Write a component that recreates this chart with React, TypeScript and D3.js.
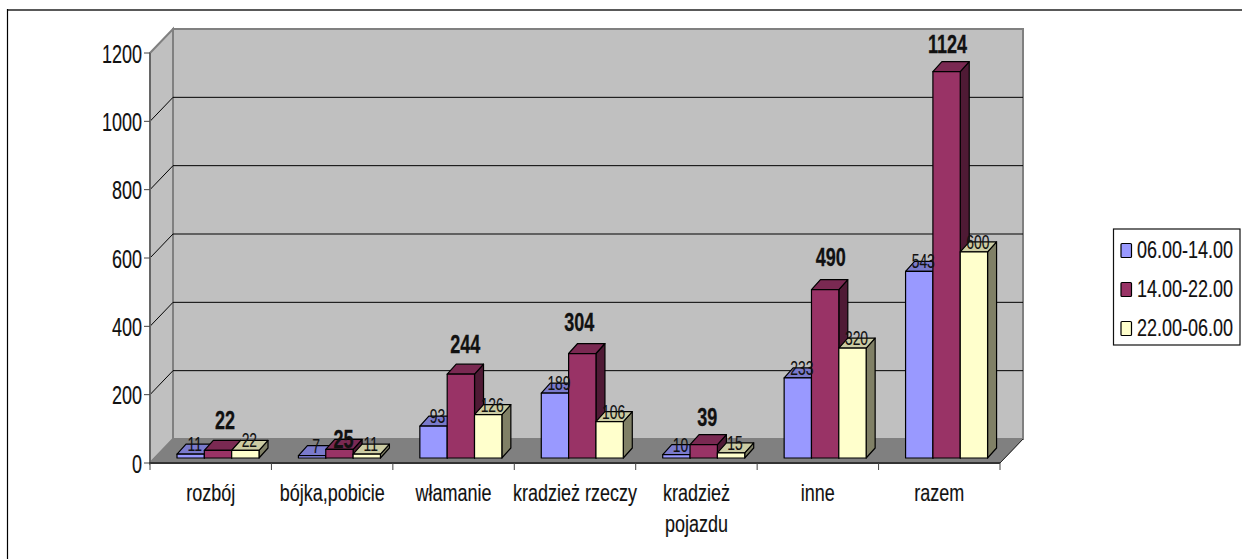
import React from "react";
import * as d3 from "d3";

const categories = ["rozbój", "bójka,pobicie", "włamanie", "kradzież rzeczy", "kradzież|pojazdu", "inne", "razem"];
const seriesNames = ["06.00-14.00", "14.00-22.00", "22.00-06.00"];
const morning = [11, 7, 93, 189, 10, 233, 543];
const afternoon = [22, 25, 244, 304, 39, 490, 1124];
const night = [22, 11, 126, 106, 15, 320, 600];
const yTicks = [0, 200, 400, 600, 800, 1000, 1200];

const series = [morning, afternoon, night];
const face = ["#9999FF", "#993366", "#FFFFCC"];
const top = ["#7A7ACC", "#7A2952", "#CCCCA3"];
const side = ["#3F3F69", "#4F1A35", "#808066"];
const FONT = "'Liberation Sans', sans-serif";

// manual label placement for the middle series, as in the source chart
const boldShiftX = [7, 4, 4.5, -3, 3.5, 5.5, 1];
const boldLift = [21, 1, 21, 23, 19, 24, 19];

function T({ x, y, anchor = "start", size, sx = 0.75, bold = false, children }: any) {
  return (
    <text transform={`translate(${x},${y}) scale(${sx},1)`} textAnchor={anchor} fontSize={size}
      fontWeight={bold ? 700 : 400} fill="#111" stroke="#111" strokeWidth={bold ? 0.3 : 0.15}>{children}</text>
  );
}

export default function App() {
  const x0 = 150, x1 = 1000, yZero = 463, yMax = 53, dx = 23, dy = 24;
  const y = d3.scaleLinear().domain([0, 1200]).range([yZero, yMax]);
  const barY = d3.scaleLinear().domain([0, 1200]).range([458, 45.6]);
  const cat = d3.scaleBand<number>().domain(d3.range(categories.length)).range([x0, x1]);
  const tickXs = d3.range(categories.length + 1).map((i) => x0 + i * cat.step());
  const inner = d3.scaleBand<number>().domain([0, 1, 2]).range([27, 109]);
  const bdx = 9, bdy = 10;
  const poly = (p: number[][]) => p.map((q) => q.join(",")).join(" ");

  return (
    <svg width={1242} height={559} style={{ position: "absolute", left: 0, top: 0, fontFamily: FONT }}>
      <rect x={0} y={0} width={1242} height={559} fill="#fff" />
      <line x1={7} x2={1242} y1={10} y2={10} stroke="#222" strokeWidth={1.6} />
      <line x1={7.5} x2={7.5} y1={9} y2={559} stroke="#000" strokeWidth={1.2} />
      {/* walls */}
      <polygon points={poly([[x0, yZero], [x0 + dx, yZero - dy], [x0 + dx, yMax - dy], [x0, yMax]])} fill="#C0C0C0" stroke="#808080" strokeWidth={2} />
      <polygon points={poly([[x0 + dx, yZero - dy], [x1 + dx, yZero - dy], [x1 + dx, yMax - dy], [x0 + dx, yMax - dy]])} fill="#C0C0C0" stroke="#808080" strokeWidth={2} />
      <polygon points={poly([[x0, yZero], [x0 + dx, yZero - dy], [x1 + dx, yZero - dy], [x1, yZero]])} fill="#808080" stroke="#808080" />
      {/* gridlines */}
      {yTicks.slice(1, -1).map((t) => (
        <polyline key={t} fill="none" stroke="#000" strokeWidth={1}
          points={poly([[x0, y(t)], [x0 + dx, y(t) - dy], [x1 + dx, y(t) - dy]])} />
      ))}
      <line x1={x0} x2={x0} y1={yMax} y2={yZero} stroke="#666" strokeWidth={2} />
      <polyline fill="none" stroke="#222" strokeWidth={1} points={poly([[x1, yZero], [x1 + dx, yZero - dy]])} />
      <line x1={x0 - 1} x2={x1} y1={yZero} y2={yZero} stroke="#333" strokeWidth={2} />
      {/* axis ticks */}
      {yTicks.map((t) => (
        <g key={t}>
          <line x1={x0 - 6} x2={x0} y1={y(t)} y2={y(t)} stroke="#444" />
          <T x={x0 - 8} y={y(t) + 9.5} anchor="end" size={25} sx={0.72}>{t}</T>
        </g>
      ))}
      {tickXs.map((tx, i) => <line key={i} x1={tx} x2={tx} y1={yZero} y2={yZero + 7} stroke="#444" />)}
      {/* bars */}
      {categories.map((_, c) => (
        <g key={c}>
          {series.map((vals, s) => {
            const l = (cat(c) as number) + (inner(s) as number);
            const w = inner.bandwidth();
            const t = barY(vals[c]);
            const b = barY(0);
            return (
              <g key={s} stroke="#000" strokeWidth={1.2} strokeLinejoin="round">
                <polygon points={poly([[l + w, t], [l + w + bdx, t - bdy], [l + w + bdx, b - bdy], [l + w, b]])} fill={side[s]} />
                <polygon points={poly([[l, t], [l + bdx, t - bdy], [l + w + bdx, t - bdy], [l + w, t]])} fill={top[s]} />
                <rect x={l} y={t} width={w} height={b - t} fill={face[s]} />
              </g>
            );
          })}
        </g>
      ))}
      {/* value labels */}
      {categories.map((_, c) => series.map((vals, s) => {
        const l = (cat(c) as number) + (inner(s) as number);
        const w = inner.bandwidth();
        const bold = s === 1;
        const lift = bold ? boldLift[c] : 3;
        return (
          <T key={`${c}-${s}`} x={l + w / 2 + (bold ? boldShiftX[c] : 4)} y={barY(vals[c]) - lift} anchor="middle"
            size={bold ? 25 : 21} sx={bold ? 0.72 : 0.66} bold={bold}>{vals[c]}</T>
        );
      }))}
      {/* category labels */}
      {categories.map((name, c) => {
        const cx = (cat(c) as number) + cat.bandwidth() / 2;
        return name.split("|").map((ln, i) => (
          <T key={`${c}-${i}`} x={cx} y={501 + i * 31} anchor="middle" size={24}>{ln}</T>
        ));
      })}
      {/* legend */}
      <rect x={1113.5} y={229} width={126.5} height={116} fill="#fff" stroke="#111" strokeWidth={1.2} />
      {seriesNames.map((n, i) => (
        <g key={n}>
          <rect x={1121} y={243.5 + i * 39} width={10.5} height={14} rx={1} fill={face[i]} stroke="#000" strokeWidth={1.2} />
          <T x={1137} y={258 + i * 39} size={24}>{n}</T>
        </g>
      ))}
    </svg>
  );
}
